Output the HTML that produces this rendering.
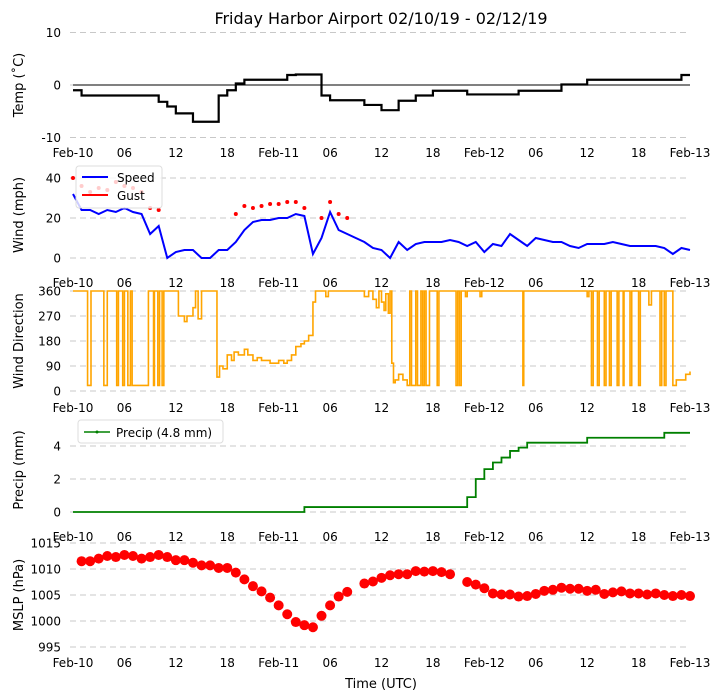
<!DOCTYPE html>
<html><head><meta charset="utf-8">
<style>
html,body{margin:0;padding:0;background:#fff;}
svg{display:block;font-family:"DejaVu Sans","Liberation Sans",sans-serif;}
</style></head>
<body>
<svg id="chart" width="721" height="700" viewBox="0 0 721 700" xmlns="http://www.w3.org/2000/svg">
<text x="381" y="24" font-size="16" text-anchor="middle">Friday Harbor Airport 02/10/19 - 02/12/19</text>
<g id="grid"></g>
<g id="marks"></g>
<g id="labels"></g>
</svg>
<script>
// ---- data ----
const xTickLabels = ["Feb-10","06","12","18","Feb-11","06","12","18","Feb-12","06","12","18","Feb-13"];
const tempTicks = [10,0,-10];
const windTicks = [0,20,40];
const dirTicks = [0,90,180,270,360];
const precipTicks = [0,2,4];
const mslpTicks = [995,1000,1005,1010,1015];

const tempHourly = [-1,-2,-2,-2,-2,-2,-2,-2,-2,-2,-3.2,-4.1,-5.4,-5.4,-7,-7,-7,-2,-1,0.3,1,1,1,1,1,1.9,2,2,2,-2,-2.9,-2.9,-2.9,-2.9,-3.8,-3.8,-4.8,-4.8,-3,-3,-2,-2,-1.1,-1.1,-1.1,-1.1,-1.8,-1.8,-1.8,-1.8,-1.8,-1.8,-1.1,-1.1,-1.1,-1.1,-1.1,0.1,0.1,0.1,1,1,1,1,1,1,1,1,1,1,1,1.9,1.9];

const speedHourly = [32,24,24,22,24,23,25,23,22,12,16,0,3,4,4,0,0,4,4,8,14,18,19,19,20,20,22,21,2,10,23,14,12,10,8,5,4,0,8,4,7,8,8,8,9,8,6,8,3,7,6,12,9,6,10,9,8,8,6,5,7,7,7,8,7,6,6,6,6,5,2,5,4];
const gustHourly = [40,36,33,35,34,38,36,35,33,25,24,null,null,null,null,null,null,null,null,22,26,25,26,27,27,28,28,25,null,20,28,22,20];

const dirTimes = [0,1.7,2.1,3.6,4.0,5.1,5.3,5.8,6.0,6.4,6.7,6.9,8.8,9.4,9.5,9.9,10.1,10.4,10.6,12.3,13.0,13.3,14.0,14.3,14.6,15.0,16.8,17.1,17.5,18.0,18.5,18.8,19.3,20.0,20.4,21.0,21.5,22.0,23.0,24.0,24.6,25.0,25.5,26.0,26.6,27.0,27.5,28.0,28.3,29.5,29.8,34.0,34.5,35.0,35.4,35.7,36.0,36.3,36.5,36.8,37.0,37.2,37.4,37.6,38.0,38.5,39.0,39.3,39.5,40.0,40.2,40.6,40.8,41.0,41.2,41.6,42.5,42.7,44.7,44.9,45.1,45.3,45.8,46.0,47.5,47.7,52.5,52.6,60.0,60.2,60.5,60.7,61.2,61.4,62.0,62.2,62.6,62.8,63.5,63.7,64.2,64.3,65.0,65.2,66.0,66.2,67.2,67.5,68.5,68.7,69.0,69.2,70.0,70.4,71.0,71.5,72];
const dirValues = [360,20,360,20,360,20,360,20,360,20,360,20,360,20,360,20,360,20,360,270,250,270,300,360,260,360,50,90,80,130,110,140,130,150,130,110,120,110,100,110,100,110,130,160,170,180,200,320,360,340,360,340,360,330,300,360,320,290,350,280,360,100,30,40,60,40,20,360,20,360,20,360,20,360,20,360,20,360,20,360,20,360,340,360,340,360,20,360,340,360,20,360,20,360,20,360,20,360,20,360,20,360,20,360,20,360,310,360,20,360,20,360,20,40,40,60,70];

const precipHourly = [0,0,0,0,0,0,0,0,0,0,0,0,0,0,0,0,0,0,0,0,0,0,0,0,0,0,0,0.3,0.3,0.3,0.3,0.3,0.3,0.3,0.3,0.3,0.3,0.3,0.3,0.3,0.3,0.3,0.3,0.3,0.3,0.3,0.9,2.0,2.6,3.0,3.3,3.7,3.9,4.2,4.2,4.2,4.2,4.2,4.2,4.2,4.5,4.5,4.5,4.5,4.5,4.5,4.5,4.5,4.5,4.8,4.8,4.8,4.8];

const mslpHours = [1,2,3,4,5,6,7,8,9,10,11,12,13,14,15,16,17,18,19,20,21,22,23,24,25,26,27,28,29,30,31,32,34,35,36,37,38,39,40,41,42,43,44,46,47,48,49,50,51,52,53,54,55,56,57,58,59,60,61,62,63,64,65,66,67,68,69,70,71,72];
const mslpValues = [1011.5,1011.5,1012,1012.5,1012.3,1012.7,1012.5,1012,1012.3,1012.7,1012.3,1011.7,1011.7,1011.2,1010.7,1010.7,1010.2,1010.2,1009.3,1008,1006.7,1005.7,1004.5,1003,1001.3,999.8,999.2,998.8,1001,1003,1004.7,1005.6,1007.2,1007.6,1008.3,1008.8,1009,1009,1009.6,1009.5,1009.6,1009.4,1009,1007.5,1007,1006.3,1005.3,1005.1,1005.1,1004.7,1004.8,1005.2,1005.8,1006,1006.4,1006.2,1006.2,1005.8,1006,1005.2,1005.5,1005.7,1005.3,1005.3,1005.1,1005.3,1005,1004.8,1005,1004.8];

// ---- scales ----
const NS="http://www.w3.org/2000/svg";
const X0=73, X1=690;
const xs = h => X0 + h*(X1-X0)/72;
const yTemp = v => 85 - v*5.25;
const yWind = v => 258 - v*2;
const yDir = v => 391 - v*100/360;
const yPrecip = v => 512 - v*16.5;
const yMslp = v => 543 + (1015 - v)*5.2;

const grid=document.getElementById('grid'), marks=document.getElementById('marks'), labels=document.getElementById('labels');
function mk(tag, attrs, parent){const e=document.createElementNS(NS,tag);for(const k in attrs)e.setAttribute(k,attrs[k]);parent.appendChild(e);return e;}

const panels = [
 {name:'temp', ticks:tempTicks, y:yTemp, title:'Temp (˚C)', xlab:157, titleY:85},
 {name:'wind', ticks:windTicks, y:yWind, title:'Wind (mph)', xlab:287, titleY:215},
 {name:'direction', ticks:dirTicks, y:yDir, title:'Wind Direction', xlab:412, titleY:341},
 {name:'precip', ticks:precipTicks, y:yPrecip, title:'Precip (mm)', xlab:541, titleY:470},
 {name:'mslp', ticks:mslpTicks, y:yMslp, title:'MSLP (hPa)', xlab:667, titleY:595}
];
panels.forEach(p=>{
  p.ticks.forEach(t=>{
    const y=p.y(t);
    const g=mk('line',{x1:70,x2:X1,y1:y,y2:y,stroke:'#c8c8c8','stroke-width':1,'stroke-dasharray':'6,4'},grid);
    
    
    const t1=mk('text',{x:61,y:y+4.5,'font-size':12,'text-anchor':'end'},labels);
    t1.textContent=t;
    
    
  });
  xTickLabels.forEach((l,i)=>{
    const t2=mk('text',{x:xs(i*6),y:p.xlab,'font-size':12,'text-anchor':'middle'},labels);
    t2.textContent=l;
    
    
  });
  const tt=mk('text',{x:0,y:0,'font-size':13,'text-anchor':'middle',transform:`translate(23,${p.titleY}) rotate(-90)`},labels);
  tt.textContent=p.title;
  
  
});
const zl=mk('line',{x1:X0,x2:X1,y1:yTemp(0),y2:yTemp(0),stroke:'#000','stroke-width':1},grid);



function stepPath(times, vals, yf){
  let d='';
  for(let i=0;i<vals.length;i++){
    const x=xs(times[i]), y=yf(vals[i]);
    if(i===0) d+=`M${x},${y}`; else d+=`H${x}V${y}`;
  }
  d+=`H${xs(72)}`;
  return d;
}
const hrs = n => Array.from({length:n},(_,i)=>i);

const tp=mk('path',{d:stepPath(hrs(tempHourly.length),tempHourly,yTemp),fill:'none',stroke:'#000','stroke-width':2.2},marks);



gustHourly.forEach((g,i)=>{
  if(g===null) return;
  const c=mk('circle',{cx:xs(i),cy:yWind(g),r:2,fill:'red'},marks);
  
  
});
let sd='';
speedHourly.forEach((v,i)=>{sd+=(i?'L':'M')+xs(i)+','+yWind(v);});
const sp=mk('path',{d:sd,fill:'none',stroke:'blue','stroke-width':2},marks);



const dp=mk('path',{d:stepPath(dirTimes,dirValues,yDir),fill:'none',stroke:'orange','stroke-width':1.6},marks);



const pp=mk('path',{d:stepPath(hrs(precipHourly.length),precipHourly,yPrecip),fill:'none',stroke:'green','stroke-width':1.8},marks);



mslpValues.forEach((v,i)=>{
  const c=mk('circle',{cx:xs(mslpHours[i]),cy:yMslp(v),r:5,fill:'red'},marks);
  
  
});

const xt=mk('text',{x:381,y:688,'font-size':13,'text-anchor':'middle'},labels);
xt.textContent='Time (UTC)';



const lg=mk('g',{},labels);


mk('rect',{x:76,y:166,width:86,height:42,rx:3,fill:'rgba(255,255,255,0.8)',stroke:'#ddd'},lg);
mk('line',{x1:82,x2:108,y1:177,y2:177,stroke:'blue','stroke-width':2},lg);
const l1=mk('text',{x:117,y:182,'font-size':12},lg); l1.textContent='Speed';


mk('line',{x1:82,x2:108,y1:195,y2:195,stroke:'red','stroke-width':2},lg);
const l2=mk('text',{x:117,y:200,'font-size':12},lg); l2.textContent='Gust';



const pl=mk('g',{},labels);


mk('rect',{x:78,y:420,width:145,height:23,rx:3,fill:'rgba(255,255,255,0.8)',stroke:'#ddd'},pl);
mk('line',{x1:84,x2:110,y1:432,y2:432,stroke:'green','stroke-width':1.5},pl);
mk('circle',{cx:97,cy:432,r:1.5,fill:'green'},pl);
const l3=mk('text',{x:116,y:437,'font-size':12},pl); l3.textContent='Precip (4.8 mm)';


</script>
</body></html>
